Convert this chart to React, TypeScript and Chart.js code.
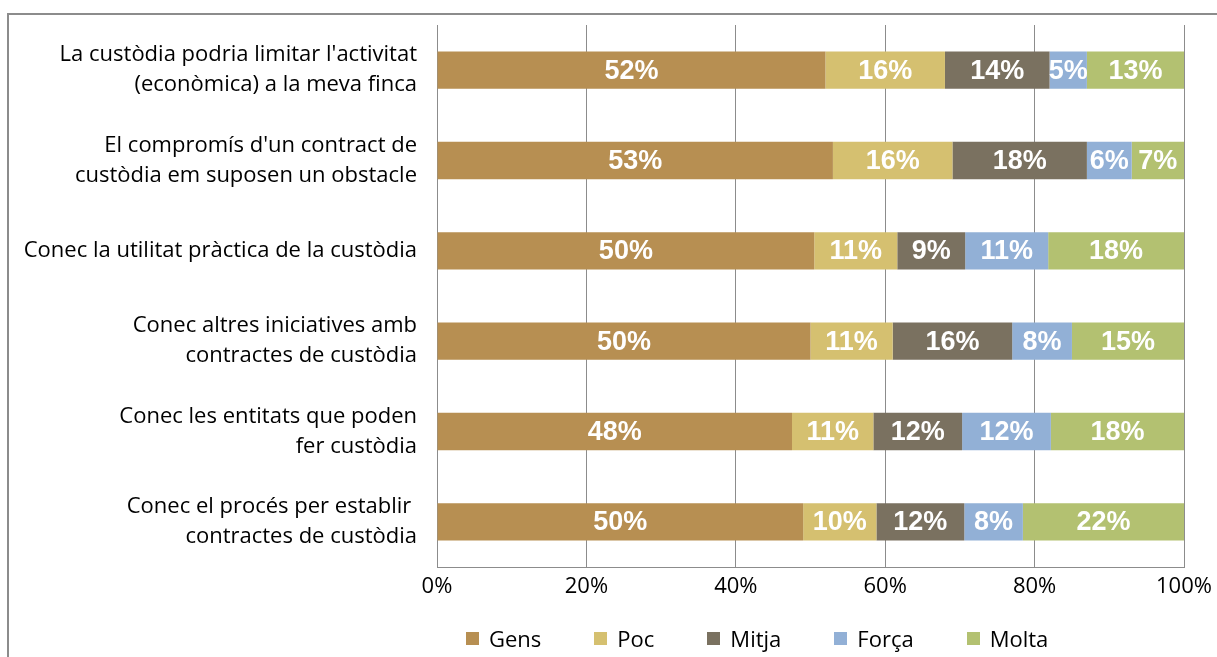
import React, { useEffect, useRef } from "react";
import { Chart, registerables } from "chart.js";

Chart.register(...registerables);

const categories: (string | string[])[] = [
  ["La custòdia podria limitar l'activitat", "(econòmica) a la meva finca"],
  ["El compromís d'un contract de", "custòdia em suposen un obstacle"],
  "Conec la utilitat pràctica de la custòdia",
  ["Conec altres iniciatives amb", "contractes de custòdia"],
  ["Conec les entitats que poden", "fer custòdia"],
  ["Conec el procés per establir ", "contractes de custòdia"],
];

const seriesNames = ["Gens", "Poc", "Mitja", "Força", "Molta"];
const gens = [52, 53, 50, 50, 48, 50];
const poc = [16, 16, 11, 11, 11, 10];
const mitja = [14, 18, 9, 16, 12, 12];
const forca = [5, 6, 11, 8, 12, 8];
const molta = [13, 7, 18, 15, 18, 22];
const xTickValues = [0, 20, 40, 60, 80, 100];
const colors = ["#B78F52", "#D5C070", "#7A7160", "#92B0D6", "#B3C171"];

const seriesValues = [gens, poc, mitja, forca, molta];

const FONT = "'Open Sans', 'Noto Sans', sans-serif";

const segLabels = {
  id: "segLabels",
  afterDatasetsDraw(chart: any) {
    const ctx = chart.ctx;
    ctx.save();
    ctx.font = "bold 27px 'Liberation Sans', Arial, sans-serif";
    ctx.fillStyle = "#ffffff";
    ctx.textAlign = "center";
    ctx.textBaseline = "middle";
    chart.data.datasets.forEach((ds: any, di: number) => {
      const meta = chart.getDatasetMeta(di);
      meta.data.forEach((el: any, i: number) => {
        const raw = seriesValues[di][i];
        const p = el.getCenterPoint();
        ctx.fillText(raw + "%", p.x, p.y + 1);
      });
    });
    ctx.restore();
  },
};

export default function App() {
  const ref = useRef<HTMLCanvasElement | null>(null);

  useEffect(() => {
    if (!ref.current) return;
    const totals = categories.map((_, i) =>
      seriesValues.reduce((s, arr) => s + arr[i], 0)
    );
    const datasets = seriesNames.map((name, si) => ({
      label: name,
      data: seriesValues[si].map((v, i) => (v / totals[i]) * 100),
      backgroundColor: colors[si],
      borderWidth: 0,
      barPercentage: 0.413,
      categoryPercentage: 1,
    }));
    const chart = new Chart(ref.current, {
      type: "bar",
      data: { labels: categories, datasets },
      options: {
        indexAxis: "y",
        responsive: false,
        animation: false,
        layout: { padding: { top: 25, right: 33, bottom: 50, left: 0 } },
        plugins: {
          legend: { display: false },
          tooltip: { enabled: false },
        },
        scales: {
          x: {
            stacked: true,
            min: 0,
            max: 100,
            afterBuildTicks(axis: any) {
              axis.ticks = xTickValues.map((v) => ({ value: v }));
            },
            afterFit(axis: any) {
              axis.height = 40;
              axis.paddingLeft = 0;
              axis.paddingRight = 0;
            },
            ticks: {
              callback: (v: any) => v + "%",
              color: "#000",
              font: { family: FONT, size: 22 },
              padding: 7,
              maxRotation: 0,
            },
            grid: { color: "#8c8c8c", lineWidth: 1, drawTicks: false },
            border: { display: true, color: "#8c8c8c", width: 1 },
          },
          y: {
            stacked: true,
            afterFit(axis: any) {
              axis.width = 437;
              axis.paddingTop = 0;
              axis.paddingBottom = 0;
            },
            ticks: {
              color: "#000",
              font: { family: FONT, size: 22, lineHeight: 1.36 },
              padding: 20,
            },
            grid: { display: false, drawTicks: false },
            border: { display: false },
          },
        },
      },
      plugins: [segLabels],
    } as any);
    return () => chart.destroy();
  }, []);

  return (
    <div style={{ position: "absolute", left: 0, top: 0, width: 1217, height: 657, overflow: "hidden", background: "#fff" }}>
      <div
        style={{
          position: "absolute",
          left: 7,
          top: 13,
          width: 1300,
          height: 700,
          borderLeft: "2px solid #8c8c8c",
          borderTop: "2px solid #8c8c8c",
        }}
      />
      <canvas ref={ref} width={1217} height={657} style={{ position: "absolute", left: 0, top: 0, display: "block" }} />
      <div
        style={{
          position: "absolute",
          left: 466,
          top: 623,
          height: 30,
          display: "flex",
          alignItems: "center",
          fontFamily: FONT,
          fontSize: 22,
          color: "#000",
        }}
      >
        {seriesNames.map((n, i) => (
          <div key={n} style={{ display: "flex", alignItems: "center", marginRight: 53 }}>
            <span style={{ display: "inline-block", width: 13, height: 13, background: colors[i], marginRight: 10 }} />
            <span>{n}</span>
          </div>
        ))}
      </div>
    </div>
  );
}
